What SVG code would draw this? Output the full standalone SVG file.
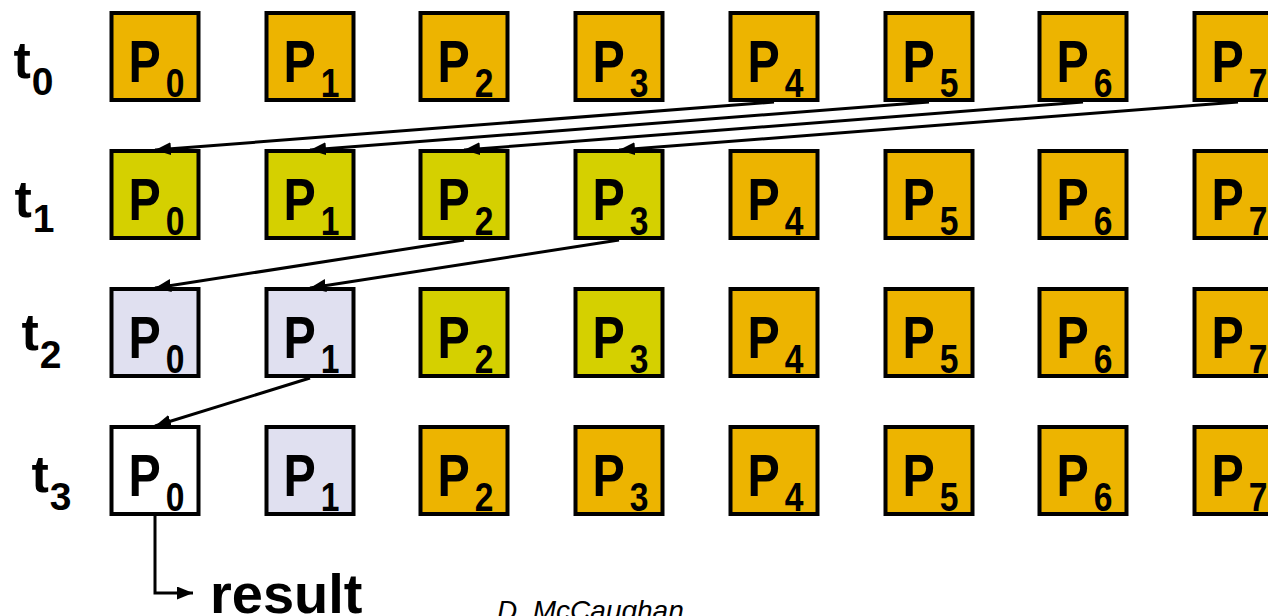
<svg xmlns="http://www.w3.org/2000/svg" width="1268" height="616" viewBox="0 0 1268 616">
  <style>
    .box { stroke: #000; stroke-width: 4; }
    .c-or { fill: #EDB400; }
    .c-yg { fill: #D5D000; }
    .c-lv { fill: #E0E0F0; }
    .c-wh { fill: #FFFFFF; }
    .p { font-family: "Liberation Sans", Arial, sans-serif; font-weight: bold; font-size: 59px; fill: #000; }
    .s { font-size: 41px; }
    .t { font-family: "Liberation Sans", Arial, sans-serif; font-weight: bold; font-size: 52px; fill: #000; }
    .ts { font-size: 39px; }
    .res { font-family: "Liberation Sans", Arial, sans-serif; font-weight: bold; font-size: 56px; fill: #000; }
    .auth { font-family: "Liberation Sans", Arial, sans-serif; font-style: italic; font-size: 28px; fill: #000; }
    .edge { stroke: #000; stroke-width: 3; fill: none; marker-end: url(#head); }
  </style>
  <defs>
    <marker id="head" markerUnits="userSpaceOnUse" markerWidth="18" markerHeight="14" refX="16" refY="6.5" orient="auto">
      <path d="M0,0 L16,6.5 L0,13 z" fill="#000"/>
    </marker>
  </defs>

  <!-- row labels -->
  <g id="labels">
    <text class="t" x="13.5" y="78">t<tspan class="ts" dx="1" dy="17">0</tspan></text>
    <text class="t" x="14.5" y="217">t<tspan class="ts" dx="1" dy="15">1</tspan></text>
    <text class="t" x="21.5" y="350">t<tspan class="ts" dx="1" dy="18">2</tspan></text>
    <text class="t" x="31.5" y="492">t<tspan class="ts" dx="1" dy="18">3</tspan></text>
  </g>

  <!-- row t0 -->
  <g id="t0-P0"><rect class="box c-or" x="111.5" y="13" width="87" height="87"/><text class="p" transform="translate(128.5,82) scale(0.82 1)">P<tspan class="s" dx="6" dy="15">0</tspan></text></g>
  <g id="t0-P1"><rect class="box c-or" x="266.5" y="13" width="87" height="87"/><text class="p" transform="translate(283.5,82) scale(0.82 1)">P<tspan class="s" dx="6" dy="15">1</tspan></text></g>
  <g id="t0-P2"><rect class="box c-or" x="420.5" y="13" width="87" height="87"/><text class="p" transform="translate(437.5,82) scale(0.82 1)">P<tspan class="s" dx="6" dy="15">2</tspan></text></g>
  <g id="t0-P3"><rect class="box c-or" x="575.5" y="13" width="87" height="87"/><text class="p" transform="translate(592.5,82) scale(0.82 1)">P<tspan class="s" dx="6" dy="15">3</tspan></text></g>
  <g id="t0-P4"><rect class="box c-or" x="730.5" y="13" width="87" height="87"/><text class="p" transform="translate(747.5,82) scale(0.82 1)">P<tspan class="s" dx="6" dy="15">4</tspan></text></g>
  <g id="t0-P5"><rect class="box c-or" x="885.5" y="13" width="87" height="87"/><text class="p" transform="translate(902.5,82) scale(0.82 1)">P<tspan class="s" dx="6" dy="15">5</tspan></text></g>
  <g id="t0-P6"><rect class="box c-or" x="1039.5" y="13" width="87" height="87"/><text class="p" transform="translate(1056.5,82) scale(0.82 1)">P<tspan class="s" dx="6" dy="15">6</tspan></text></g>
  <g id="t0-P7"><rect class="box c-or" x="1194.5" y="13" width="87" height="87"/><text class="p" transform="translate(1211.5,82) scale(0.82 1)">P<tspan class="s" dx="6" dy="15">7</tspan></text></g>

  <!-- row t1 -->
  <g id="t1-P0"><rect class="box c-yg" x="111.5" y="151" width="87" height="87"/><text class="p" transform="translate(128.5,220) scale(0.82 1)">P<tspan class="s" dx="6" dy="15">0</tspan></text></g>
  <g id="t1-P1"><rect class="box c-yg" x="266.5" y="151" width="87" height="87"/><text class="p" transform="translate(283.5,220) scale(0.82 1)">P<tspan class="s" dx="6" dy="15">1</tspan></text></g>
  <g id="t1-P2"><rect class="box c-yg" x="420.5" y="151" width="87" height="87"/><text class="p" transform="translate(437.5,220) scale(0.82 1)">P<tspan class="s" dx="6" dy="15">2</tspan></text></g>
  <g id="t1-P3"><rect class="box c-yg" x="575.5" y="151" width="87" height="87"/><text class="p" transform="translate(592.5,220) scale(0.82 1)">P<tspan class="s" dx="6" dy="15">3</tspan></text></g>
  <g id="t1-P4"><rect class="box c-or" x="730.5" y="151" width="87" height="87"/><text class="p" transform="translate(747.5,220) scale(0.82 1)">P<tspan class="s" dx="6" dy="15">4</tspan></text></g>
  <g id="t1-P5"><rect class="box c-or" x="885.5" y="151" width="87" height="87"/><text class="p" transform="translate(902.5,220) scale(0.82 1)">P<tspan class="s" dx="6" dy="15">5</tspan></text></g>
  <g id="t1-P6"><rect class="box c-or" x="1039.5" y="151" width="87" height="87"/><text class="p" transform="translate(1056.5,220) scale(0.82 1)">P<tspan class="s" dx="6" dy="15">6</tspan></text></g>
  <g id="t1-P7"><rect class="box c-or" x="1194.5" y="151" width="87" height="87"/><text class="p" transform="translate(1211.5,220) scale(0.82 1)">P<tspan class="s" dx="6" dy="15">7</tspan></text></g>

  <!-- row t2 -->
  <g id="t2-P0"><rect class="box c-lv" x="111.5" y="289" width="87" height="87"/><text class="p" transform="translate(128.5,358) scale(0.82 1)">P<tspan class="s" dx="6" dy="15">0</tspan></text></g>
  <g id="t2-P1"><rect class="box c-lv" x="266.5" y="289" width="87" height="87"/><text class="p" transform="translate(283.5,358) scale(0.82 1)">P<tspan class="s" dx="6" dy="15">1</tspan></text></g>
  <g id="t2-P2"><rect class="box c-yg" x="420.5" y="289" width="87" height="87"/><text class="p" transform="translate(437.5,358) scale(0.82 1)">P<tspan class="s" dx="6" dy="15">2</tspan></text></g>
  <g id="t2-P3"><rect class="box c-yg" x="575.5" y="289" width="87" height="87"/><text class="p" transform="translate(592.5,358) scale(0.82 1)">P<tspan class="s" dx="6" dy="15">3</tspan></text></g>
  <g id="t2-P4"><rect class="box c-or" x="730.5" y="289" width="87" height="87"/><text class="p" transform="translate(747.5,358) scale(0.82 1)">P<tspan class="s" dx="6" dy="15">4</tspan></text></g>
  <g id="t2-P5"><rect class="box c-or" x="885.5" y="289" width="87" height="87"/><text class="p" transform="translate(902.5,358) scale(0.82 1)">P<tspan class="s" dx="6" dy="15">5</tspan></text></g>
  <g id="t2-P6"><rect class="box c-or" x="1039.5" y="289" width="87" height="87"/><text class="p" transform="translate(1056.5,358) scale(0.82 1)">P<tspan class="s" dx="6" dy="15">6</tspan></text></g>
  <g id="t2-P7"><rect class="box c-or" x="1194.5" y="289" width="87" height="87"/><text class="p" transform="translate(1211.5,358) scale(0.82 1)">P<tspan class="s" dx="6" dy="15">7</tspan></text></g>

  <!-- row t3 -->
  <g id="t3-P0"><rect class="box c-wh" x="111.5" y="427" width="87" height="87"/><text class="p" transform="translate(128.5,496) scale(0.82 1)">P<tspan class="s" dx="6" dy="15">0</tspan></text></g>
  <g id="t3-P1"><rect class="box c-lv" x="266.5" y="427" width="87" height="87"/><text class="p" transform="translate(283.5,496) scale(0.82 1)">P<tspan class="s" dx="6" dy="15">1</tspan></text></g>
  <g id="t3-P2"><rect class="box c-or" x="420.5" y="427" width="87" height="87"/><text class="p" transform="translate(437.5,496) scale(0.82 1)">P<tspan class="s" dx="6" dy="15">2</tspan></text></g>
  <g id="t3-P3"><rect class="box c-or" x="575.5" y="427" width="87" height="87"/><text class="p" transform="translate(592.5,496) scale(0.82 1)">P<tspan class="s" dx="6" dy="15">3</tspan></text></g>
  <g id="t3-P4"><rect class="box c-or" x="730.5" y="427" width="87" height="87"/><text class="p" transform="translate(747.5,496) scale(0.82 1)">P<tspan class="s" dx="6" dy="15">4</tspan></text></g>
  <g id="t3-P5"><rect class="box c-or" x="885.5" y="427" width="87" height="87"/><text class="p" transform="translate(902.5,496) scale(0.82 1)">P<tspan class="s" dx="6" dy="15">5</tspan></text></g>
  <g id="t3-P6"><rect class="box c-or" x="1039.5" y="427" width="87" height="87"/><text class="p" transform="translate(1056.5,496) scale(0.82 1)">P<tspan class="s" dx="6" dy="15">6</tspan></text></g>
  <g id="t3-P7"><rect class="box c-or" x="1194.5" y="427" width="87" height="87"/><text class="p" transform="translate(1211.5,496) scale(0.82 1)">P<tspan class="s" dx="6" dy="15">7</tspan></text></g>

  <!-- reduction steps -->
  <g id="connectors">
    <line class="edge" x1="774" y1="102" x2="155" y2="150"/>
    <line class="edge" x1="929" y1="102" x2="310" y2="150"/>
    <line class="edge" x1="1083" y1="102" x2="464" y2="150"/>
    <line class="edge" x1="1238" y1="102" x2="619" y2="150"/>
    <line class="edge" x1="464" y1="240" x2="155" y2="288"/>
    <line class="edge" x1="619" y1="240" x2="310" y2="288"/>
    <line class="edge" x1="310" y1="378" x2="155" y2="426"/>
    <path class="edge" d="M155,516 V593 H193"/>
  </g>

  <text id="result" class="res" x="210" y="613">result</text>
  <text id="author" class="auth" x="497" y="620">D. McCaughan</text>
</svg>
